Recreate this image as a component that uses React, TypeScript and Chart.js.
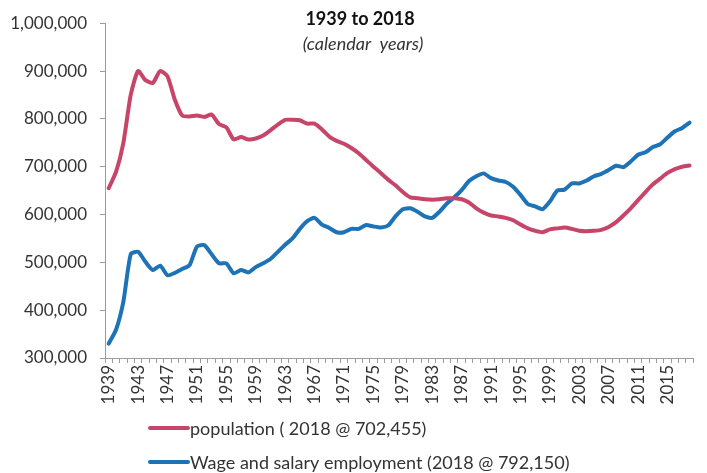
import { useEffect, useRef } from "react";
import { Chart, registerables } from "chart.js";

Chart.register(...registerables);

const years = [
  "1939", "1940", "1941", "1942", "1943", "1944", "1945", "1946", "1947", "1948",
  "1949", "1950", "1951", "1952", "1953", "1954", "1955", "1956", "1957", "1958",
  "1959", "1960", "1961", "1962", "1963", "1964", "1965", "1966", "1967", "1968",
  "1969", "1970", "1971", "1972", "1973", "1974", "1975", "1976", "1977", "1978",
  "1979", "1980", "1981", "1982", "1983", "1984", "1985", "1986", "1987", "1988",
  "1989", "1990", "1991", "1992", "1993", "1994", "1995", "1996", "1997", "1998",
  "1999", "2000", "2001", "2002", "2003", "2004", "2005", "2006", "2007", "2008",
  "2009", "2010", "2011", "2012", "2013", "2014", "2015", "2016", "2017", "2018",
];

const population = [
  655000, 689000, 750000, 850000, 900000, 881000, 875000, 900000, 889000, 840000,
  807000, 805000, 807000, 804000, 809000, 789000, 782000, 757000, 762000, 757000,
  759000, 765000, 776000, 788000, 798000, 798000, 797000, 790000, 790000, 778000,
  763000, 754000, 748000, 739000, 728000, 714000, 700000, 687000, 673000, 661000,
  647000, 636000, 634000, 632000, 631000, 632000, 634000, 634000, 632000, 625000,
  613000, 604000, 598000, 596000, 593000, 588000, 579000, 571000, 566000, 563000,
  569000, 571000, 573000, 570000, 566000, 565000, 566000, 568000, 574000, 584000,
  598000, 613000, 630000, 647000, 663000, 675000, 687000, 695000, 700000, 702455,
];

const employment = [
  330000, 359000, 418000, 517000, 522000, 501000, 484000, 493000, 473000, 478000,
  486000, 494000, 533000, 536000, 517000, 498000, 498000, 477000, 484000, 479000,
  490000, 498000, 507000, 522000, 537000, 550000, 570000, 586000, 593000, 579000,
  572000, 563000, 563000, 570000, 570000, 578000, 575000, 573000, 577000, 596000,
  611000, 613000, 606000, 596000, 593000, 606000, 623000, 636000, 651000, 670000,
  680000, 686000, 676000, 671000, 668000, 658000, 641000, 622000, 617000, 611000,
  627000, 650000, 652000, 665000, 665000, 671000, 680000, 685000, 693000, 702000,
  699000, 711000, 725000, 730000, 741000, 747000, 761000, 774000, 781000, 792150,
];

const seriesLabels = [
  "population ( 2018 @ 702,455)",
  "Wage and salary employment (2018 @ 792,150)",
];
const titleLines = ["1939 to 2018", "(calendar  years)"];

const RED = "#C8456A";
const BLUE = "#1E72B6";
const TEXT = "#333333";
const AXIS = "#9C9C9C";
const FONT = "Lato, 'Open Sans', sans-serif";

const overlayPlugin = {
  id: "overlay",
  afterDraw(chart: any) {
    const ctx = chart.ctx;
    ctx.save();
    // title
    ctx.textAlign = "center";
    ctx.textBaseline = "middle";
    ctx.fillStyle = "#111111";
    ctx.font = `bold 18px ${FONT}`;
    ctx.fillText(titleLines[0], 360, 19);
    ctx.fillStyle = TEXT;
    ctx.font = `italic 18px ${FONT}`;
    ctx.fillText(titleLines[1], 363, 44);
    // legend
    const ys = [428, 462];
    chart.data.datasets.forEach((ds: any, i: number) => {
      const y = ys[i];
      ctx.strokeStyle = ds.borderColor;
      ctx.lineWidth = 4;
      ctx.lineCap = "round";
      ctx.beginPath();
      ctx.moveTo(150, y);
      ctx.lineTo(188, y);
      ctx.stroke();
      ctx.fillStyle = TEXT;
      ctx.font = `18px ${FONT}`;
      ctx.textAlign = "left";
      ctx.textBaseline = "middle";
      ctx.fillText(ds.label, 190, y + 1);
    });
    ctx.restore();
  },
};

export default function App() {
  const ref = useRef<HTMLCanvasElement | null>(null);

  useEffect(() => {
    if (!ref.current) return;
    const chart = new Chart(ref.current, {
      type: "line",
      data: {
        labels: years,
        datasets: [
          {
            label: seriesLabels[0],
            data: population,
            borderColor: RED,
            backgroundColor: RED,
            borderWidth: 4,
            pointRadius: 0,
            tension: 0.2,
            borderJoinStyle: "round",
            borderCapStyle: "round",
          },
          {
            label: seriesLabels[1],
            data: employment,
            borderColor: BLUE,
            backgroundColor: BLUE,
            borderWidth: 4,
            pointRadius: 0,
            tension: 0.2,
            borderJoinStyle: "round",
            borderCapStyle: "round",
          },
        ],
      },
      options: {
        responsive: false,
        animation: false,
        devicePixelRatio: 1,
        layout: { padding: { top: 18, right: 4, bottom: 0, left: 0 } },
        plugins: {
          legend: { display: false },
          tooltip: { enabled: false },
          title: { display: false },
        },
        scales: {
          x: {
            type: "category",
            offset: true,
            afterFit: (s: any) => {
              s.height = 115;
            },
            border: { display: true, color: AXIS, width: 1 },
            grid: {
              display: true,
              drawOnChartArea: false,
              drawTicks: true,
              tickLength: 5,
              color: AXIS,
              offset: true,
            },
            ticks: {
              autoSkip: false,
              maxRotation: 90,
              minRotation: 90,
              padding: 2,
              color: TEXT,
              font: { family: FONT, size: 17 },
              callback: (_v: any, i: number) => (i % 4 === 0 ? years[i] : ""),
            },
          },
          y: {
            min: 300000,
            max: 1000000,
            afterFit: (s: any) => {
              s.width = 105;
            },
            border: { display: true, color: AXIS, width: 1 },
            grid: {
              display: true,
              drawOnChartArea: false,
              drawTicks: true,
              tickLength: 5,
              color: AXIS,
            },
            ticks: {
              stepSize: 100000,
              padding: 13,
              color: TEXT,
              font: { family: FONT, size: 17 },
              callback: (v: any) => Number(v).toLocaleString("en-US"),
            },
          },
        },
      },
      plugins: [overlayPlugin],
    });
    return () => chart.destroy();
  }, []);

  return (
    <div
      style={{
        position: "absolute",
        left: 0,
        top: 0,
        width: 707,
        height: 473,
        overflow: "hidden",
        background: "#ffffff",
      }}
    >
      <canvas ref={ref} width={712} height={473} style={{ width: 712, height: 473, display: "block" }} />
    </div>
  );
}
